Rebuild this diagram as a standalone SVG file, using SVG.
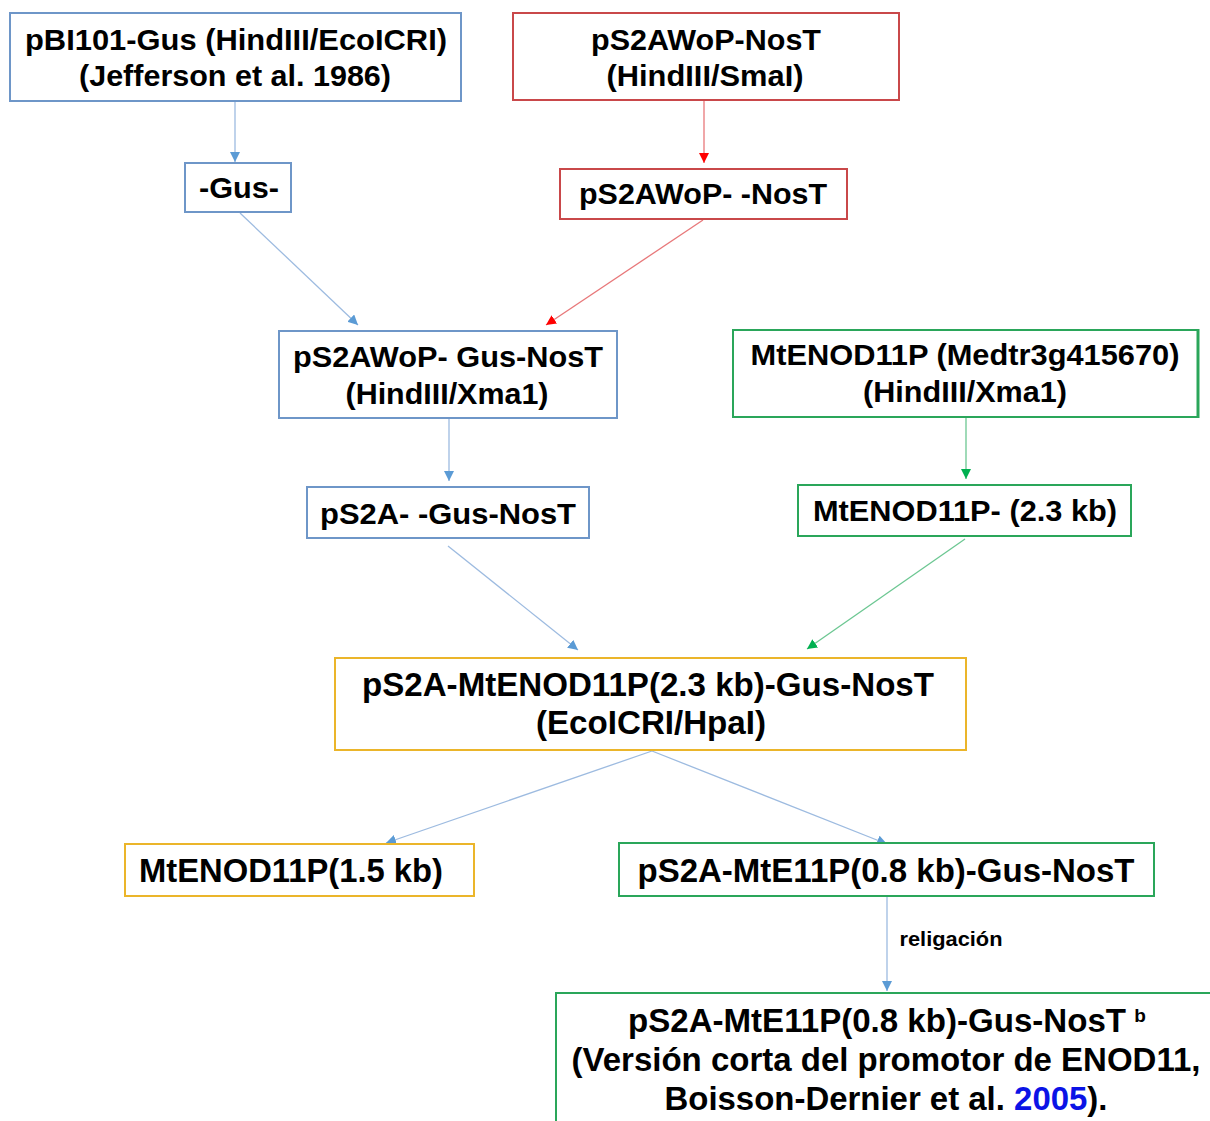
<svg xmlns="http://www.w3.org/2000/svg" width="1210" height="1121" viewBox="0 0 1210 1121">
  <style>
    .box { fill: #ffffff; stroke-width: 2; }
    .blue { stroke: #6e96c8; }
    .red { stroke: #c9484a; }
    .green { stroke: #2aa65a; }
    .yellow { stroke: #ebb52a; }
    text { font-family: "Liberation Sans", Arial, sans-serif; font-weight: bold; fill: #000000; text-anchor: middle; }
    .t30 { font-size: 30px; }
    .t32 { font-size: 33px; }
    .lbl { font-size: 20px; }
    .cb { fill: none; stroke: #9dbbe0; stroke-width: 1.3; }
    .cr { fill: none; stroke: #e8787a; stroke-width: 1.3; }
    .cg { fill: none; stroke: #6cc792; stroke-width: 1.3; }
  </style>
  <defs>
    <marker id="ahBlue" markerWidth="11" markerHeight="10" refX="10" refY="5" orient="auto" markerUnits="userSpaceOnUse">
      <path d="M0,0 L10,5 L0,10 z" fill="#5b9bd5"/>
    </marker>
    <marker id="ahRed" markerWidth="11" markerHeight="10" refX="10" refY="5" orient="auto" markerUnits="userSpaceOnUse">
      <path d="M0,0 L10,5 L0,10 z" fill="#ff0000"/>
    </marker>
    <marker id="ahGreen" markerWidth="11" markerHeight="10" refX="10" refY="5" orient="auto" markerUnits="userSpaceOnUse">
      <path d="M0,0 L10,5 L0,10 z" fill="#00b050"/>
    </marker>
  </defs>

  <rect width="1210" height="1121" fill="#ffffff"/>

  <!-- connectors -->
  <g id="connectors">
    <line class="cb" x1="235" y1="101" x2="235" y2="162" marker-end="url(#ahBlue)"/>
    <line class="cr" x1="704" y1="101" x2="704" y2="163" marker-end="url(#ahRed)"/>
    <line class="cb" x1="240" y1="213" x2="358" y2="325" marker-end="url(#ahBlue)"/>
    <line class="cr" x1="703" y1="220" x2="546" y2="325" marker-end="url(#ahRed)"/>
    <line class="cb" x1="449" y1="418" x2="449" y2="481" marker-end="url(#ahBlue)"/>
    <line class="cg" x1="966" y1="417" x2="966" y2="479" marker-end="url(#ahGreen)"/>
    <line class="cb" x1="448" y1="546" x2="578" y2="650" marker-end="url(#ahBlue)"/>
    <line class="cg" x1="965" y1="539" x2="807" y2="649" marker-end="url(#ahGreen)"/>
    <line class="cb" x1="652" y1="751" x2="386" y2="843" marker-end="url(#ahBlue)"/>
    <line class="cb" x1="652" y1="751" x2="887" y2="844" marker-end="url(#ahBlue)"/>
    <line class="cb" x1="887" y1="896" x2="887" y2="991" marker-end="url(#ahBlue)"/>
    <text class="lbl" x="951" y="946" textLength="103" lengthAdjust="spacingAndGlyphs">religación</text>
  </g>

  <g id="pBI101">
    <rect class="box blue" x="10" y="13" width="451" height="88"/>
    <text class="t30" x="236" y="50" textLength="422" lengthAdjust="spacingAndGlyphs">pBI101-Gus (HindIII/EcoICRI)</text>
    <text class="t30" x="235" y="86" textLength="312" lengthAdjust="spacingAndGlyphs">(Jefferson et al. 1986)</text>
  </g>

  <g id="gus">
    <rect class="box blue" x="185" y="163" width="106" height="49"/>
    <text class="t30" x="239" y="198" textLength="80" lengthAdjust="spacingAndGlyphs">-Gus-</text>
  </g>

  <g id="pS2AWoP-NosT">
    <rect class="box red" x="513" y="13" width="386" height="87"/>
    <text class="t30" x="706" y="50" textLength="230" lengthAdjust="spacingAndGlyphs">pS2AWoP-NosT</text>
    <text class="t30" x="705" y="86" textLength="197" lengthAdjust="spacingAndGlyphs">(HindIII/SmaI)</text>
  </g>

  <g id="pS2AWoP-cut">
    <rect class="box red" x="560" y="169" width="287" height="50"/>
    <text class="t30" x="703" y="204" textLength="248" lengthAdjust="spacingAndGlyphs">pS2AWoP- -NosT</text>
  </g>

  <g id="pS2AWoP-Gus-NosT">
    <rect class="box blue" x="279" y="331" width="338" height="87"/>
    <text class="t30" x="448" y="367" textLength="310" lengthAdjust="spacingAndGlyphs">pS2AWoP- Gus-NosT</text>
    <text class="t30" x="447" y="404" textLength="203" lengthAdjust="spacingAndGlyphs">(HindIII/Xma1)</text>
  </g>

  <g id="MtENOD11P">
    <rect class="box green" x="733" y="330" width="465" height="87"/>
    <line x1="1198" y1="329" x2="1198" y2="418" stroke="#2aa65a" stroke-width="3"/>
    <text class="t30" x="965" y="365" textLength="429" lengthAdjust="spacingAndGlyphs">MtENOD11P (Medtr3g415670)</text>
    <text class="t30" x="965" y="402" textLength="204" lengthAdjust="spacingAndGlyphs">(HindIII/Xma1)</text>
  </g>

  <g id="MtENOD11P-2.3">
    <rect class="box green" x="798" y="485" width="333" height="51"/>
    <text class="t30" x="965" y="521" textLength="304" lengthAdjust="spacingAndGlyphs">MtENOD11P- (2.3 kb)</text>
  </g>

  <g id="pS2A-Gus-NosT">
    <rect class="box blue" x="307" y="487" width="282" height="51"/>
    <text class="t30" x="448" y="524" textLength="256" lengthAdjust="spacingAndGlyphs">pS2A- -Gus-NosT</text>
  </g>

  <g id="pS2A-MtENOD11P">
    <rect class="box yellow" x="335" y="658" width="631" height="92"/>
    <text class="t32" x="648" y="696" textLength="572" lengthAdjust="spacingAndGlyphs">pS2A-MtENOD11P(2.3 kb)-Gus-NosT</text>
    <text class="t32" x="651" y="734" textLength="230" lengthAdjust="spacingAndGlyphs">(EcoICRI/HpaI)</text>
  </g>

  <g id="MtENOD11P-1.5">
    <rect class="box yellow" x="125" y="844" width="349" height="52"/>
    <text class="t32" x="291" y="882" textLength="304" lengthAdjust="spacingAndGlyphs">MtENOD11P(1.5 kb)</text>
  </g>

  <g id="pS2A-MtE11P">
    <rect class="box green" x="619" y="843" width="535" height="53"/>
    <text class="t32" x="886" y="882" textLength="497" lengthAdjust="spacingAndGlyphs">pS2A-MtE11P(0.8 kb)-Gus-NosT</text>
  </g>

  <g id="pS2A-MtE11P-final">
    <rect class="box green" x="556" y="993" width="700" height="200"/>
    <text class="t32" x="877" y="1032" textLength="498" lengthAdjust="spacingAndGlyphs">pS2A-MtE11P(0.8 kb)-Gus-NosT</text>
    <text x="1140" y="1022" style="font-size:19px">b</text>
    <text class="t32" x="886" y="1071" textLength="629" lengthAdjust="spacingAndGlyphs">(Versión corta del promotor de ENOD11,</text>
    <text class="t32" x="886" y="1110" textLength="443" lengthAdjust="spacingAndGlyphs">Boisson-Dernier et al. <tspan fill="#0b13e6">2005</tspan>).</text>
  </g>
</svg>
